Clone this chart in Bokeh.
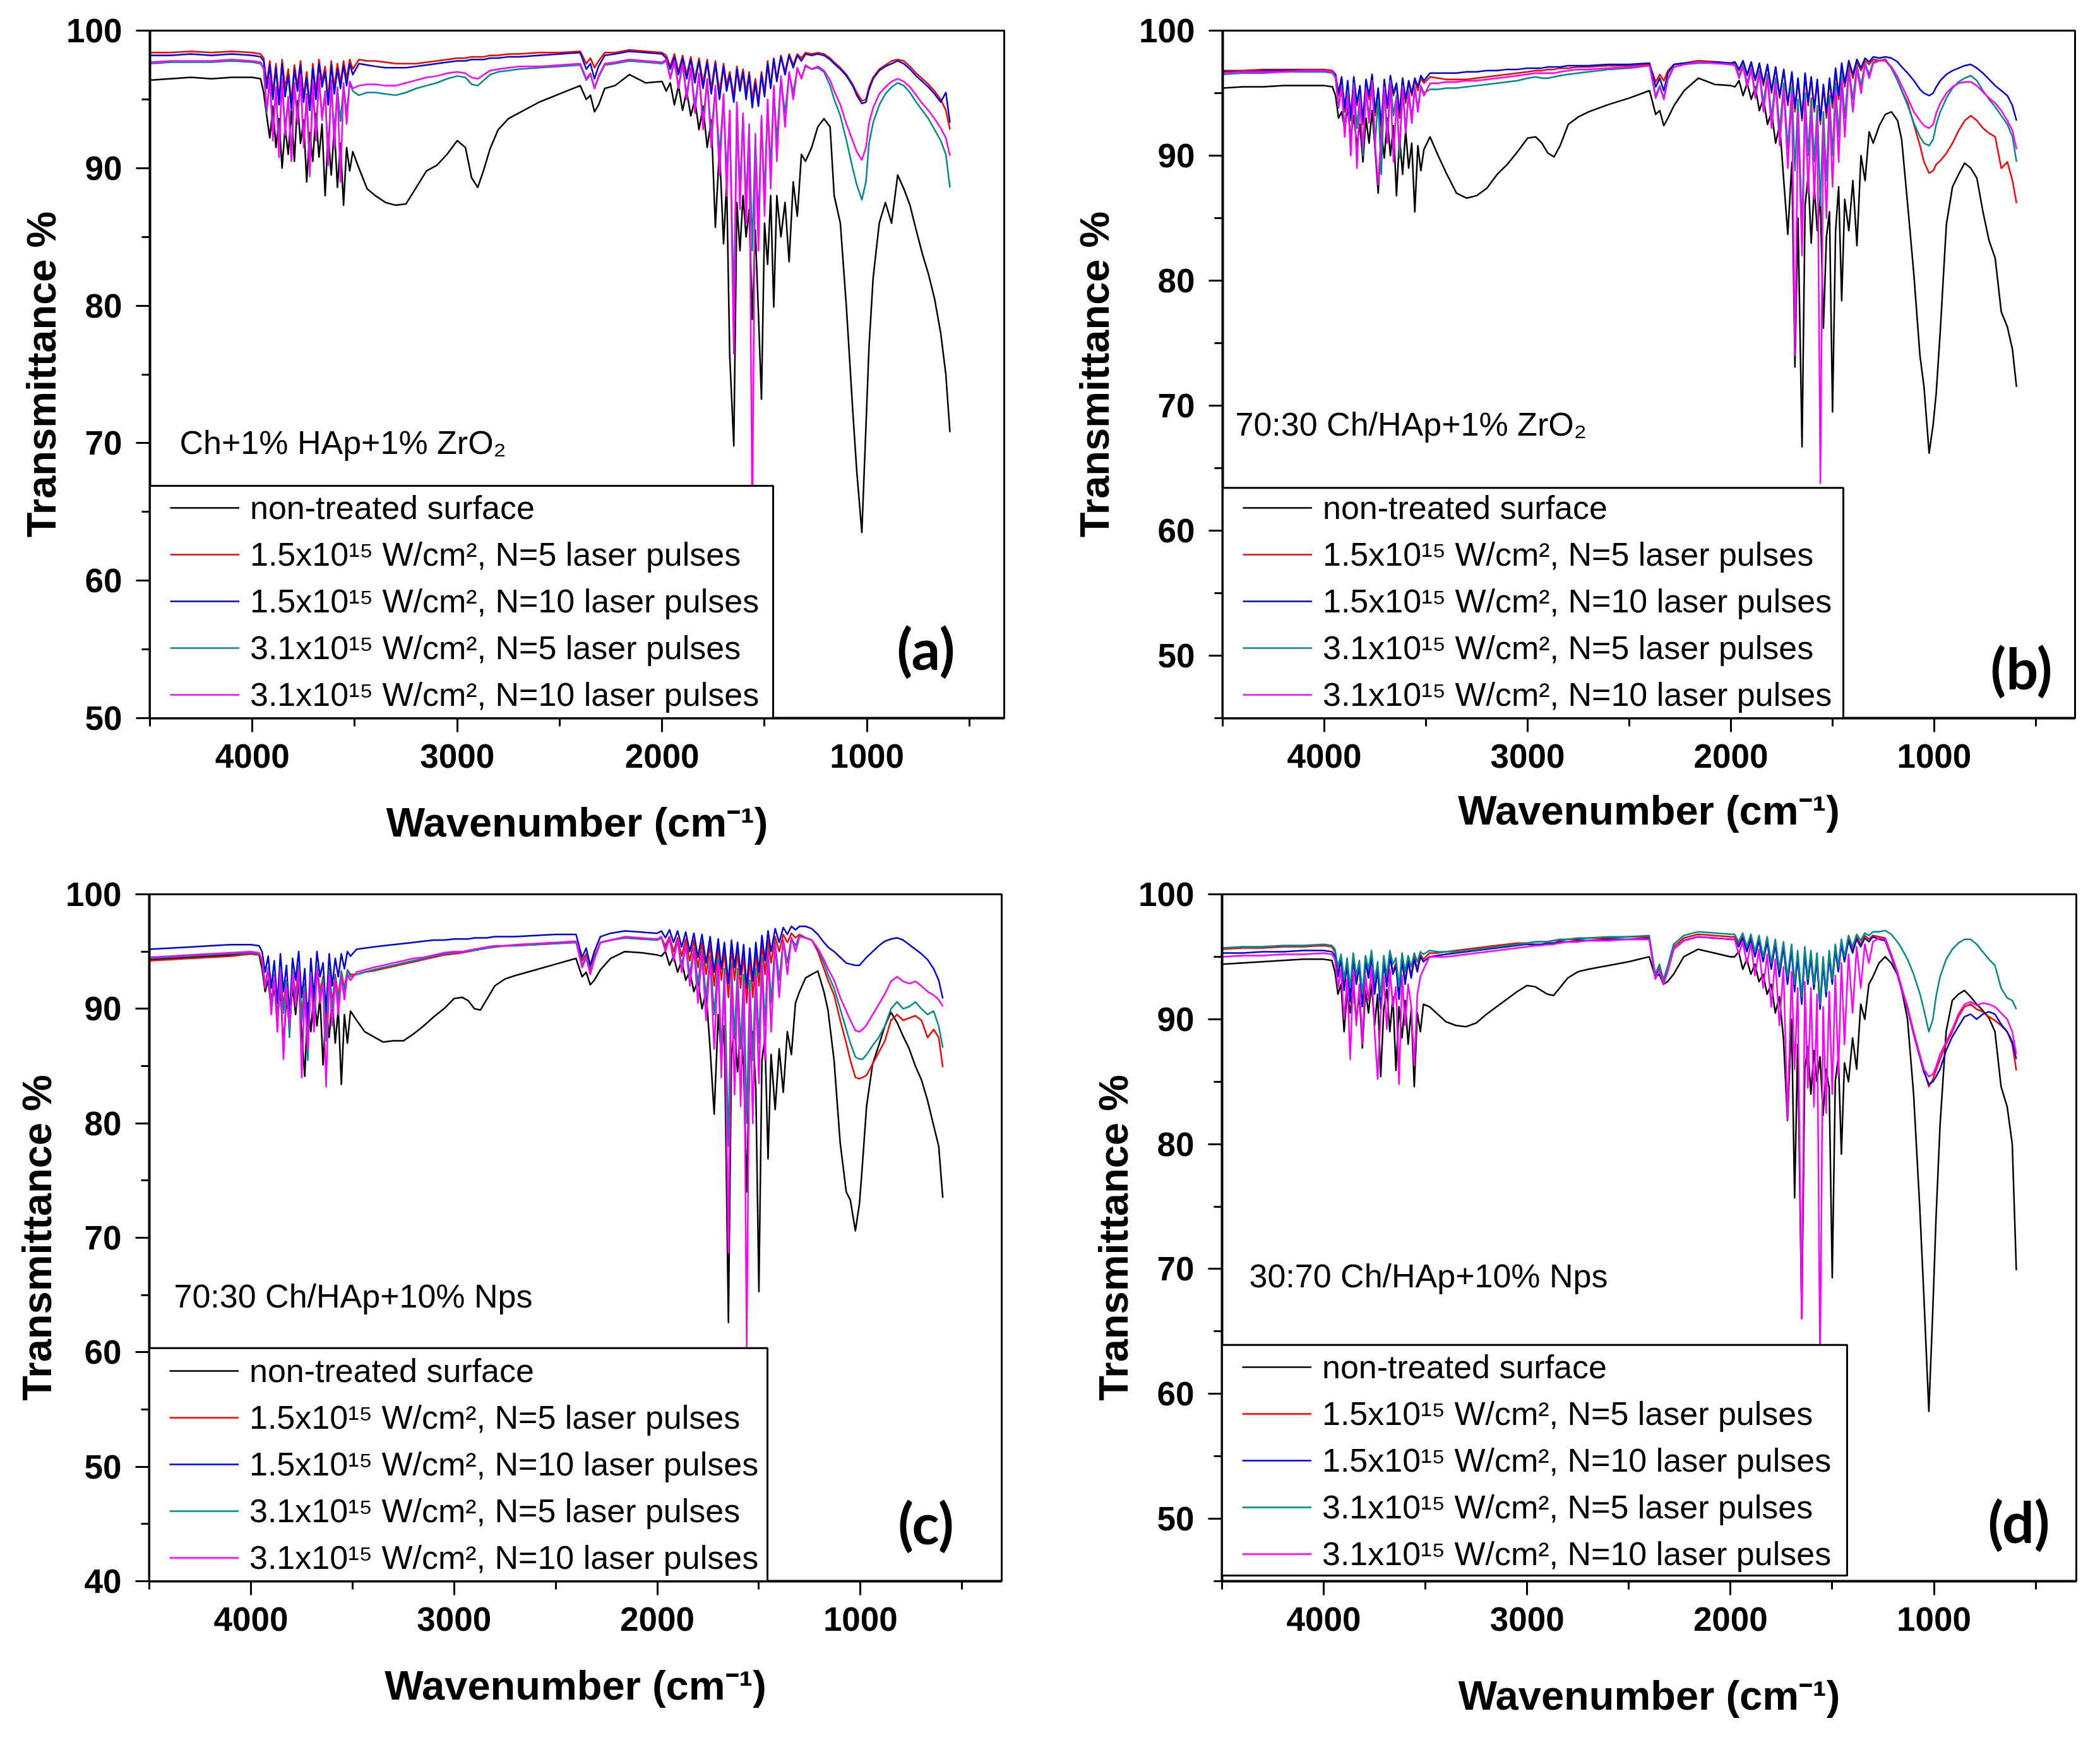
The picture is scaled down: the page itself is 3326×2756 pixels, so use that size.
from bokeh.plotting import figure
from bokeh.layouts import column, row
from bokeh.models import Range1d, FixedTicker, Legend, LegendItem, BoxAnnotation, Label
from bokeh.embed import file_html
from bokeh.resources import INLINE

# ---------------- wavenumber grid (cm-1), in five segments ----------------
wn_edge = [4500, 4400, 4300, 4200, 4100, 4000, 3960]
wn_oh = [3945, 3930, 3915, 3900, 3885, 3870, 3855, 3840, 3825, 3810, 3795, 3780, 3765, 3750, 3735,
         3720, 3705, 3690, 3675, 3660, 3645, 3630, 3615, 3600, 3585, 3570, 3555, 3540, 3525, 3510]
wn_ch = [3480, 3440, 3400, 3350, 3300, 3250, 3200, 3150, 3100, 3050, 3000, 2960, 2930, 2900, 2870,
         2840, 2800, 2750, 2700, 2600, 2500, 2400, 2370, 2350, 2330, 2310, 2280, 2230, 2160, 2080, 2000]
wn_amide = [1980, 1960, 1940, 1920, 1900, 1880, 1860, 1840, 1820, 1800, 1780, 1760, 1740, 1720, 1700,
            1685, 1670, 1650, 1635, 1620, 1605, 1590, 1575, 1560, 1545, 1530, 1515, 1500, 1485, 1470,
            1455, 1440, 1420, 1400, 1380, 1360, 1340, 1320, 1300]
wn_po4 = [1270, 1240, 1210, 1180, 1160, 1130, 1100, 1070, 1050, 1025, 1005, 990, 970, 940, 910, 880,
          850, 820, 790, 760, 730, 700, 670, 640, 615, 595]
WN_SEGMENTS = [wn_edge, wn_oh, wn_ch, wn_amide, wn_po4]

SERIES_LABELS = [
    "non-treated surface",
    "1.5x10\u00b9\u2075 W/cm\u00b2, N=5 laser pulses",
    "1.5x10\u00b9\u2075 W/cm\u00b2, N=10 laser pulses",
    "3.1x10\u00b9\u2075 W/cm\u00b2, N=5 laser pulses",
    "3.1x10\u00b9\u2075 W/cm\u00b2, N=10 laser pulses",
]
SERIES_COLORS = ["#000000", "#FF0000", "#0000E6", "#008B8B", "#FF00FF"]

# ---------------- panel (a): Ch+1% HAp+1% ZrO2 ----------------
a_untreated = [
    [96.4, 96.5, 96.6, 96.5, 96.6, 96.6, 96.5],
    [95.5, 93.8, 92.2, 94.5, 91.5, 93.6, 90.0, 93.0, 91.0, 94.2, 90.5, 94.9, 91.8, 93.5, 89.0,
     92.6, 90.5, 94.0, 90.8, 93.2, 88.0, 92.5, 89.5, 93.0, 88.6, 91.8, 87.3, 91.5, 89.8, 91.2],
    [90.0, 88.5, 88.0, 87.5, 87.3, 87.4, 88.6, 89.8, 90.2, 91.0, 92.0, 91.5, 89.3, 88.6, 89.9,
     91.4, 92.8, 93.6, 94.0, 94.8, 95.4, 96.0, 95.0, 95.3, 94.1, 94.6, 95.8, 96.0, 96.8, 96.2, 96.3],
    [95.6, 96.2, 94.6, 96.0, 94.2, 95.6, 93.8, 95.0, 92.8, 94.5, 91.5, 93.5, 85.7, 91.5, 84.5,
     89.0, 76.4, 69.8, 87.5, 84.0, 88.0, 85.0, 87.0, 79.0, 85.5, 79.5, 73.2, 86.0, 83.0, 88.0,
     79.9, 88.0, 85.0, 87.5, 83.2, 89.0, 86.5, 91.0, 90.5],
    [91.5, 93.0, 93.6, 93.0, 88.0, 86.0, 79.8, 72.5, 68.0, 63.5, 71.2, 77.0, 82.0, 86.0, 87.5,
     86.0, 89.5, 88.5, 87.3, 85.5, 83.8, 82.3, 80.5, 78.0, 75.0, 70.8],
]
a_15_n5 = [
    [98.4, 98.4, 98.5, 98.4, 98.5, 98.4, 98.3],
    [98.0, 96.2, 97.8, 95.5, 97.6, 95.0, 97.9, 95.8, 97.2, 94.8, 97.5, 96.0, 97.8, 95.2, 97.0,
     94.6, 97.6, 95.5, 97.9, 96.3, 97.4, 95.0, 97.8, 95.8, 97.6, 96.2, 97.8, 96.5, 97.9, 97.2],
    [97.9, 97.8, 97.8, 97.7, 97.6, 97.6, 97.6, 97.7, 97.8, 97.9, 98.0, 98.0, 98.1, 98.1, 98.1,
     98.2, 98.2, 98.3, 98.3, 98.4, 98.4, 98.5, 97.6, 98.0, 97.3, 97.8, 98.4, 98.4, 98.6, 98.5, 98.4],
    [98.2, 97.4, 98.3, 97.0, 98.2, 96.8, 98.1, 96.5, 98.0, 96.2, 97.9, 95.8, 97.8, 95.5, 97.6,
     96.0, 97.0, 95.2, 97.4, 96.0, 97.2, 95.5, 97.0, 95.0, 96.5, 94.8, 97.0, 95.5, 97.8, 96.0,
     98.0, 96.5, 98.2, 97.0, 98.3, 97.5, 98.3, 98.0, 98.4],
    [98.3, 98.4, 98.3, 98.0, 97.7, 97.3, 96.8, 96.1, 95.5, 94.9, 95.0, 95.9, 96.6, 97.2, 97.5,
     97.8, 97.9, 97.8, 97.4, 96.9, 96.5, 96.1, 95.6, 95.0, 94.2, 92.8],
]
a_15_n10 = [
    [98.2, 98.2, 98.3, 98.2, 98.3, 98.2, 98.1],
    [97.8, 95.8, 97.5, 95.0, 97.3, 94.6, 97.6, 95.2, 96.8, 94.3, 97.2, 95.6, 97.5, 94.8, 96.6,
     94.2, 97.3, 95.0, 97.6, 95.9, 97.0, 94.6, 97.5, 95.4, 97.2, 95.8, 97.5, 96.0, 97.6, 96.8],
    [97.6, 97.5, 97.4, 97.3, 97.3, 97.3, 97.4, 97.5, 97.6, 97.7, 97.8, 97.8, 97.9, 97.9, 97.9,
     98.0, 98.0, 98.1, 98.1, 98.2, 98.3, 98.4, 97.2, 97.6, 96.5, 97.4, 98.2, 98.3, 98.5, 98.4, 98.3],
    [98.0, 97.2, 98.1, 96.8, 98.0, 96.5, 97.9, 96.2, 97.8, 95.8, 97.7, 95.4, 97.6, 95.0, 97.4,
     95.6, 96.8, 94.8, 97.2, 95.6, 97.0, 95.0, 96.8, 94.4, 96.2, 94.5, 96.8, 95.2, 97.6, 95.8,
     97.9, 96.3, 98.1, 96.8, 98.2, 97.3, 98.2, 97.8, 98.3],
    [98.2, 98.3, 98.2, 97.9, 97.6, 97.2, 96.7, 96.0, 95.3, 94.7, 94.8, 95.7, 96.5, 97.1, 97.4,
     97.6, 97.8, 97.6, 97.2, 96.7, 96.3, 95.9, 95.4, 94.8, 95.5, 93.3],
]
a_31_n5 = [
    [97.6, 97.7, 97.7, 97.7, 97.8, 97.7, 97.6],
    [97.2, 94.0, 96.5, 92.5, 95.8, 91.5, 96.4, 92.8, 95.0, 91.0, 96.0, 93.5, 96.6, 92.0, 95.2,
     90.2, 96.0, 92.5, 96.5, 93.8, 95.4, 91.0, 96.2, 92.5, 95.8, 93.4, 96.0, 94.0, 96.2, 95.6],
    [95.3, 95.5, 95.5, 95.4, 95.3, 95.5, 95.8, 96.0, 96.2, 96.5, 96.7, 96.6, 96.1, 96.0, 96.4,
     96.8, 97.0, 97.1, 97.2, 97.3, 97.4, 97.5, 96.4, 96.8, 95.8, 96.6, 97.5, 97.6, 97.8, 97.7, 97.6],
    [97.8, 96.6, 97.7, 96.0, 97.5, 95.4, 97.2, 94.6, 96.8, 93.5, 96.4, 92.5, 95.8, 91.0, 95.2,
     89.5, 94.0, 80.0, 94.5, 88.5, 93.8, 87.5, 93.0, 84.0, 92.2, 86.0, 93.5, 88.0, 94.8, 90.0,
     95.8, 92.0, 96.5, 94.0, 96.9, 95.5, 97.2, 96.6, 97.4],
    [97.2, 97.3, 97.0, 96.0, 95.0, 93.8, 92.0, 90.0, 88.8, 87.7, 89.0, 91.8, 93.3, 94.6, 95.4,
     95.9, 96.2, 96.0, 95.5, 94.8, 94.2, 93.6, 92.8, 92.0, 91.0, 88.6],
]
a_31_n10 = [
    [97.7, 97.8, 97.8, 97.8, 97.9, 97.8, 97.7],
    [97.3, 94.2, 96.6, 92.0, 95.9, 90.8, 96.5, 92.4, 95.2, 90.5, 96.2, 93.2, 96.8, 91.5, 95.4,
     89.4, 96.2, 92.0, 96.7, 93.5, 95.6, 90.2, 96.4, 91.5, 95.9, 89.0, 96.2, 93.2, 96.3, 95.8],
    [96.0, 96.1, 96.1, 96.0, 96.0, 96.2, 96.4, 96.6, 96.7, 96.9, 97.0, 96.9, 96.6, 96.5, 96.8,
     97.1, 97.2, 97.3, 97.4, 97.4, 97.5, 97.6, 96.5, 96.9, 95.8, 96.7, 97.6, 97.7, 97.9, 97.8, 97.7],
    [97.9, 96.5, 97.8, 95.8, 97.6, 95.0, 97.3, 94.0, 96.9, 92.8, 96.5, 91.5, 96.0, 89.5, 95.4,
     88.0, 94.2, 76.5, 94.8, 87.0, 94.0, 86.0, 93.2, 64.0, 92.5, 84.0, 93.8, 86.5, 95.0, 88.5,
     96.0, 90.5, 96.7, 93.0, 97.0, 95.0, 97.3, 96.5, 97.5],
    [97.2, 97.4, 97.1, 96.4, 95.6, 94.6, 93.2, 92.0, 91.2, 90.6, 91.5, 93.3, 94.4, 95.4, 95.9,
     96.3, 96.5, 96.3, 95.9, 95.3, 94.7, 94.2, 93.6, 92.9, 92.2, 90.9],
]

# ---------------- panel (b): 70:30 Ch/HAp+1% ZrO2 ----------------
b_untreated = [
    [95.4, 95.5, 95.5, 95.6, 95.6, 95.6, 95.5],
    [94.8, 93.0, 93.5, 92.2, 93.8, 91.5, 93.2, 90.8, 92.5, 89.5, 93.0, 91.0, 93.6, 90.5, 87.0,
     92.0, 89.8, 93.0, 90.0, 92.4, 86.8, 91.5, 88.5, 92.0, 89.0, 91.0, 85.5, 90.8, 88.8, 90.5],
    [91.5, 90.0, 88.6, 87.0, 86.6, 86.8, 87.4, 88.5, 89.3, 90.3, 91.4, 91.5, 91.0, 90.2, 89.9,
     90.8, 92.5, 93.1, 93.5, 94.1, 94.6, 95.2, 93.3, 93.6, 92.4, 93.0, 94.0, 95.2, 96.2, 95.7, 95.6],
    [95.5, 96.0, 94.8, 95.8, 94.5, 95.5, 93.6, 94.6, 92.5, 93.5, 91.0, 92.5, 88.0, 83.7, 89.5,
     73.1, 85.0, 66.7, 86.0, 88.4, 83.0, 87.5, 84.0, 86.8, 76.2, 83.5, 85.5, 69.5, 84.0, 87.5,
     78.4, 86.5, 84.0, 88.0, 82.8, 90.0, 88.0, 91.9, 91.0],
    [92.4, 93.3, 93.5, 92.8, 91.3, 86.0, 80.5, 74.0, 71.5, 66.2, 68.5, 71.0, 76.0, 84.5, 87.5,
     88.5, 89.4, 89.0, 88.2, 85.5, 83.2, 81.8, 77.5, 76.3, 74.5, 71.5],
]
b_15_n5 = [
    [96.8, 96.8, 96.9, 96.9, 96.9, 96.9, 96.8],
    [96.5, 94.8, 96.2, 93.5, 95.8, 92.8, 96.2, 94.0, 95.5, 92.5, 96.0, 94.5, 96.4, 93.2, 95.2,
     92.0, 96.0, 93.8, 96.3, 94.8, 95.6, 93.0, 96.1, 94.2, 95.8, 94.8, 96.0, 95.2, 96.2, 95.8],
    [96.3, 96.2, 96.1, 96.1, 96.1, 96.2, 96.3, 96.4, 96.5, 96.6, 96.7, 96.8, 96.8, 96.9, 96.9,
     97.0, 97.0, 97.1, 97.1, 97.2, 97.2, 97.3, 95.9, 96.5, 96.0, 96.8, 97.3, 97.4, 97.6, 97.5, 97.4],
    [97.4, 96.8, 97.5, 96.4, 97.4, 96.0, 97.3, 95.6, 97.2, 95.0, 97.0, 94.6, 96.8, 94.0, 96.6,
     93.5, 96.0, 92.8, 96.5, 94.0, 96.2, 93.5, 96.0, 92.5, 95.5, 93.0, 96.0, 93.8, 96.8, 94.5,
     97.2, 95.5, 97.4, 96.2, 97.5, 96.8, 97.6, 97.3, 97.7],
    [97.6, 97.7, 97.0, 96.0, 95.2, 94.2, 92.5, 90.8, 89.5, 88.6, 88.8, 89.3, 89.6, 90.2, 91.0,
     92.0, 92.8, 93.2, 92.8, 92.2, 91.8, 91.5, 89.0, 89.5, 88.0, 86.2],
]
b_15_n10 = [
    [96.7, 96.7, 96.8, 96.8, 96.8, 96.8, 96.7],
    [96.5, 95.0, 96.3, 93.8, 96.0, 93.0, 96.3, 94.2, 95.6, 92.8, 96.1, 94.8, 96.5, 93.5, 95.4,
     92.4, 96.1, 94.0, 96.4, 95.0, 95.8, 93.4, 96.2, 94.5, 96.0, 95.0, 96.2, 95.5, 96.4, 96.0],
    [96.6, 96.6, 96.6, 96.6, 96.7, 96.7, 96.8, 96.8, 96.9, 96.9, 97.0, 97.0, 97.0, 97.1, 97.1,
     97.1, 97.2, 97.2, 97.2, 97.3, 97.3, 97.4, 95.5, 96.2, 95.2, 96.6, 97.3, 97.4, 97.5, 97.5, 97.4],
    [97.5, 96.9, 97.6, 96.5, 97.5, 96.1, 97.4, 95.8, 97.3, 95.2, 97.1, 94.8, 96.9, 94.2, 96.7,
     93.8, 96.2, 93.0, 96.6, 94.3, 96.3, 93.8, 96.1, 92.8, 95.7, 93.4, 96.2, 94.2, 97.0, 94.8,
     97.4, 95.8, 97.6, 96.5, 97.7, 97.0, 97.8, 97.5, 97.9],
    [97.8, 97.9, 97.8, 97.5, 97.1, 96.6, 96.0, 95.3, 95.0, 94.8, 95.0, 95.5, 96.0, 96.5, 96.8,
     97.0, 97.2, 97.3, 97.0, 96.6, 96.1, 95.6, 95.2, 94.8, 94.0, 92.8],
]
b_31_n5 = [
    [96.5, 96.6, 96.6, 96.7, 96.7, 96.7, 96.6],
    [96.2, 94.0, 95.6, 92.0, 95.2, 90.5, 95.8, 92.2, 94.8, 90.0, 95.4, 93.0, 96.0, 91.0, 94.5,
     88.5, 95.5, 91.5, 96.0, 93.2, 94.8, 89.8, 95.6, 92.0, 95.2, 93.0, 95.5, 93.8, 95.6, 95.0],
    [95.3, 95.3, 95.4, 95.4, 95.5, 95.6, 95.7, 95.8, 95.9, 96.0, 96.2, 96.3, 96.2, 96.2, 96.3,
     96.4, 96.5, 96.6, 96.7, 96.9, 97.0, 97.2, 94.8, 95.6, 94.6, 96.2, 97.1, 97.3, 97.4, 97.4, 97.3],
    [97.3, 96.4, 97.2, 95.8, 97.0, 95.0, 96.8, 94.2, 96.5, 93.0, 96.2, 92.0, 95.8, 90.5, 95.5,
     88.8, 94.5, 84.0, 95.0, 90.0, 94.6, 89.5, 94.0, 86.0, 93.5, 88.0, 94.8, 90.0, 95.8, 91.5,
     96.5, 93.0, 97.0, 94.5, 97.2, 95.6, 97.4, 96.5, 97.5],
    [97.6, 97.6, 97.0, 96.0, 95.2, 94.0, 92.6, 91.5, 91.0, 90.8, 91.3, 92.5, 93.5, 94.6, 95.4,
     95.9, 96.2, 96.4, 96.0, 95.2, 94.5, 93.9, 93.2, 92.5, 91.5, 89.5],
]
b_31_n10 = [
    [96.6, 96.7, 96.7, 96.7, 96.8, 96.8, 96.7],
    [96.3, 93.8, 95.5, 91.5, 95.0, 90.0, 95.6, 89.0, 94.6, 90.5, 95.3, 92.6, 95.9, 90.8, 87.7,
     91.5, 95.4, 91.0, 95.9, 89.5, 94.6, 90.5, 95.5, 91.8, 95.0, 92.6, 95.4, 93.5, 95.5, 94.8],
    [95.8, 95.8, 95.9, 95.9, 96.0, 96.0, 96.1, 96.2, 96.3, 96.4, 96.5, 96.6, 96.6, 96.6, 96.6,
     96.7, 96.8, 96.9, 96.9, 97.0, 97.1, 97.2, 94.6, 95.5, 94.5, 96.1, 97.1, 97.3, 97.5, 97.4, 97.3],
    [97.2, 96.2, 97.1, 95.5, 96.9, 94.6, 96.6, 93.5, 96.2, 92.2, 95.8, 90.8, 95.3, 89.0, 95.0,
     74.0, 93.5, 82.0, 94.5, 87.0, 93.8, 86.5, 93.2, 63.8, 92.5, 85.0, 94.0, 87.5, 95.2, 89.5,
     96.0, 91.5, 96.8, 93.5, 97.0, 95.0, 97.3, 96.2, 97.4],
    [97.6, 97.6, 97.1, 96.3, 95.6, 94.6, 93.5, 92.8, 92.4, 92.2, 92.5, 93.4, 94.2, 95.0, 95.5,
     95.8, 95.9, 95.9, 95.6, 95.1, 94.6, 94.2, 93.6, 92.8, 92.0, 90.5],
]

# ---------------- panel (c): 70:30 Ch/HAp+10% Nps ----------------
c_untreated = [
    [94.3, 94.4, 94.5, 94.6, 94.7, 94.8, 94.7],
    [93.5, 91.5, 92.5, 90.0, 92.0, 89.0, 91.8, 86.6, 91.0, 88.5, 92.0, 89.5, 92.3, 88.0, 84.1,
     90.5, 88.0, 91.5, 88.5, 91.0, 85.1, 90.2, 87.5, 90.8, 87.0, 90.0, 83.4, 89.5, 87.0, 89.8],
    [89.0, 88.0, 87.6, 87.1, 87.2, 87.2, 87.8, 88.5, 89.3, 90.0, 90.9, 91.0, 90.7, 90.0, 89.9,
     90.8, 92.0, 92.6, 92.9, 93.4, 93.9, 94.4, 92.8, 93.2, 92.1, 92.5, 93.4, 94.4, 95.0, 94.9, 94.7],
    [94.6, 95.0, 93.8, 94.6, 93.2, 94.2, 92.5, 93.3, 91.5, 92.5, 90.0, 91.5, 86.5, 80.8, 89.5,
     86.0, 88.5, 62.6, 86.0, 88.5, 84.5, 88.2, 85.0, 74.0, 86.0, 88.0, 83.0, 65.3, 85.5, 87.5,
     76.9, 86.0, 81.2, 86.5, 82.7, 88.0, 86.0, 90.5, 91.5],
    [92.7, 93.0, 93.3, 91.5, 89.9, 85.5, 78.3, 74.0, 73.3, 70.6, 73.0, 76.5, 81.5, 85.2, 86.8,
     88.5, 89.7, 88.8, 87.6, 86.5, 85.0, 83.8, 82.0, 79.8, 78.0, 73.5],
]
c_15_n5 = [
    [94.2, 94.3, 94.4, 94.5, 94.6, 94.8, 94.7],
    [94.0, 92.0, 93.5, 90.5, 93.0, 89.0, 93.6, 90.2, 92.5, 88.0, 93.2, 91.2, 93.8, 89.5, 92.2,
     86.5, 93.2, 89.5, 93.8, 91.5, 92.8, 88.0, 93.5, 90.5, 93.0, 91.0, 93.3, 91.8, 93.4, 93.0],
    [93.0, 93.2, 93.3, 93.5, 93.7, 93.9, 94.1, 94.3, 94.5, 94.7, 94.8, 94.9, 95.0, 95.1, 95.2,
     95.3, 95.4, 95.5, 95.5, 95.6, 95.7, 95.8, 94.2, 94.8, 93.5, 94.6, 95.8, 96.0, 96.2, 96.1, 96.0],
    [96.2, 95.5, 96.3, 95.0, 96.2, 94.6, 96.1, 94.2, 96.0, 93.6, 95.8, 93.0, 95.6, 92.0, 95.4,
     92.5, 95.0, 91.0, 95.3, 92.5, 95.0, 91.8, 94.8, 90.5, 94.5, 91.0, 95.0, 92.0, 95.6, 93.0,
     96.0, 94.0, 96.3, 95.0, 96.5, 95.8, 96.6, 96.2, 96.5],
    [96.2, 96.0, 95.0, 93.5, 92.5, 91.2, 89.0, 87.0, 85.5, 84.0, 83.9, 84.0, 84.2, 85.2, 86.2,
     87.2, 89.0, 89.5, 89.0, 89.2, 89.4, 89.0, 87.5, 88.2, 87.5, 84.9],
]
c_15_n10 = [
    [95.2, 95.3, 95.4, 95.5, 95.6, 95.6, 95.5],
    [95.0, 93.2, 94.6, 91.8, 94.2, 90.5, 94.8, 91.5, 93.8, 89.5, 94.4, 92.5, 95.0, 91.0, 93.5,
     88.5, 94.4, 91.0, 95.0, 92.8, 94.0, 89.8, 94.8, 92.0, 94.4, 92.8, 94.8, 93.5, 95.0, 94.6],
    [95.2, 95.3, 95.4, 95.5, 95.6, 95.7, 95.8, 95.9, 96.0, 96.0, 96.1, 96.1, 96.1, 96.2, 96.2,
     96.2, 96.3, 96.3, 96.3, 96.4, 96.5, 96.5, 94.5, 95.3, 93.8, 95.0, 96.3, 96.6, 96.8, 96.7, 96.6],
    [96.8, 96.2, 96.9, 95.8, 96.8, 95.4, 96.7, 95.0, 96.6, 94.5, 96.5, 94.0, 96.3, 93.2, 96.1,
     93.5, 95.8, 92.2, 96.0, 93.6, 95.8, 93.0, 95.6, 91.8, 95.3, 92.4, 95.8, 93.2, 96.4, 94.2,
     96.8, 95.0, 97.0, 95.8, 97.1, 96.5, 97.2, 96.9, 97.2],
    [97.2, 97.0, 96.5, 95.8, 95.4, 95.0, 94.5, 94.0, 93.9, 93.8, 93.8, 94.1, 94.5, 95.0, 95.5,
     95.9, 96.1, 96.2, 96.0, 95.6, 95.2, 94.8, 94.3, 93.5, 92.5, 90.9],
]
c_31_n5 = [
    [94.4, 94.5, 94.6, 94.7, 94.8, 94.9, 94.8],
    [94.2, 92.0, 93.6, 90.0, 93.0, 88.5, 93.6, 89.6, 92.4, 87.5, 93.2, 90.8, 93.8, 88.8, 92.0,
     85.5, 93.2, 88.8, 93.8, 91.0, 92.6, 87.2, 93.4, 90.0, 92.8, 90.5, 93.2, 91.5, 93.4, 92.8],
    [93.0, 93.2, 93.4, 93.6, 93.8, 94.0, 94.2, 94.4, 94.6, 94.8, 94.9, 95.0, 95.0, 95.1, 95.2,
     95.3, 95.4, 95.5, 95.5, 95.6, 95.7, 95.8, 93.8, 94.6, 93.2, 94.4, 95.8, 96.0, 96.2, 96.1, 96.0],
    [96.2, 95.2, 96.1, 94.5, 95.9, 93.8, 95.6, 93.0, 95.3, 92.2, 95.0, 91.0, 94.6, 89.5, 94.4,
     86.0, 93.5, 78.0, 94.0, 87.5, 93.5, 86.5, 93.0, 80.0, 92.5, 85.5, 93.5, 87.0, 94.5, 88.5,
     95.3, 90.5, 95.8, 92.5, 96.0, 94.0, 96.2, 95.5, 96.4],
    [96.2, 96.0, 95.2, 94.0, 93.0, 91.8, 90.0, 88.2, 87.0, 85.8, 85.6, 85.6, 86.0, 86.8, 87.5,
     88.5, 90.0, 90.6, 90.0, 90.2, 90.6, 90.0, 89.5, 89.8, 88.5, 86.6],
]
c_31_n10 = [
    [94.5, 94.6, 94.7, 94.8, 94.9, 95.0, 94.9],
    [94.3, 91.8, 93.5, 89.5, 92.8, 88.0, 93.4, 85.6, 92.0, 88.5, 93.0, 90.2, 93.6, 84.0, 91.5,
     86.5, 93.0, 88.0, 93.6, 90.5, 92.2, 83.2, 93.0, 88.5, 92.5, 89.5, 92.8, 90.8, 93.0, 92.5],
    [93.2, 93.4, 93.6, 93.8, 94.0, 94.2, 94.4, 94.5, 94.7, 94.9, 95.0, 95.0, 95.1, 95.2, 95.3,
     95.4, 95.5, 95.5, 95.6, 95.7, 95.8, 95.9, 93.6, 94.5, 93.0, 94.3, 95.8, 96.0, 96.3, 96.2, 96.1],
    [96.3, 95.0, 96.2, 94.2, 96.0, 93.2, 95.6, 92.0, 95.2, 90.5, 94.8, 89.0, 94.4, 86.5, 94.0,
     84.0, 93.0, 68.7, 93.5, 82.5, 92.8, 81.5, 92.2, 60.4, 91.5, 80.0, 92.8, 83.5, 94.0, 85.5,
     95.0, 88.0, 95.6, 91.0, 96.0, 93.0, 96.2, 95.0, 96.3],
    [96.2, 96.0, 95.3, 94.3, 93.5, 92.5, 91.0, 89.8, 89.0, 88.1, 88.0, 88.2, 88.6, 89.5, 90.4,
     91.3, 92.4, 92.8, 92.4, 92.2, 92.4, 92.0, 91.5, 91.2, 90.8, 90.2],
]

# ---------------- panel (d): 30:70 Ch/HAp+10% Nps ----------------
d_untreated = [
    [94.4, 94.5, 94.6, 94.7, 94.8, 94.8, 94.7],
    [93.8, 92.0, 92.8, 89.0, 92.2, 90.5, 92.5, 90.0, 92.0, 87.7, 92.3, 90.5, 92.8, 89.5, 92.0,
     85.4, 90.8, 92.4, 89.0, 91.8, 85.9, 91.0, 88.5, 91.5, 88.0, 90.8, 84.6, 90.5, 89.0, 91.2],
    [91.0, 90.4, 89.8, 89.5, 89.4, 89.7, 90.4, 91.0, 91.6, 92.2, 92.7, 92.6, 92.3, 92.0, 91.9,
     92.5, 93.3, 93.8, 94.0, 94.3, 94.6, 95.0, 93.4, 93.6, 92.8, 93.0, 93.6, 95.0, 95.6, 95.3, 95.0],
    [95.0, 95.4, 94.0, 94.8, 93.6, 94.4, 93.0, 93.6, 92.0, 92.8, 90.5, 91.8, 88.5, 81.9, 90.0,
     75.7, 88.0, 66.1, 86.0, 87.8, 84.0, 87.5, 85.0, 87.0, 82.3, 86.0, 84.5, 69.3, 85.0, 87.0,
     79.2, 86.5, 85.0, 88.5, 86.0, 91.2, 90.0, 92.8, 93.4],
    [94.5, 95.0, 94.5, 93.6, 92.5, 90.0, 84.0, 75.0, 68.0, 58.6, 67.0, 74.0, 81.5, 89.0, 91.5,
     92.0, 92.3, 91.8, 91.2, 90.7, 90.1, 89.0, 84.6, 83.0, 80.0, 69.9],
]
d_15_n5 = [
    [95.6, 95.7, 95.7, 95.8, 95.8, 95.9, 95.8],
    [95.4, 93.6, 95.0, 92.5, 94.6, 91.6, 95.0, 93.0, 94.4, 91.2, 94.8, 93.5, 95.2, 92.2, 94.2,
     91.0, 94.8, 92.8, 95.2, 93.8, 94.5, 91.8, 95.0, 93.0, 94.8, 93.5, 95.0, 94.0, 95.2, 94.8],
    [95.3, 95.3, 95.4, 95.5, 95.6, 95.7, 95.8, 95.9, 96.0, 96.1, 96.1, 96.2, 96.2, 96.2, 96.3,
     96.3, 96.4, 96.4, 96.5, 96.5, 96.6, 96.6, 93.5, 94.2, 93.0, 94.0, 95.8, 96.5, 96.8, 96.7, 96.6],
    [96.6, 96.0, 96.7, 95.6, 96.6, 95.2, 96.5, 94.8, 96.4, 94.2, 96.2, 93.6, 96.0, 93.0, 95.8,
     92.5, 95.2, 91.5, 95.5, 93.0, 95.2, 92.6, 95.0, 91.0, 94.6, 92.0, 95.2, 93.0, 95.8, 94.0,
     96.2, 94.8, 96.5, 95.5, 96.6, 96.0, 96.7, 96.4, 96.7],
    [96.6, 96.5, 95.2, 93.8, 92.6, 91.0, 89.0, 87.2, 86.0, 84.6, 85.2, 85.9, 86.8, 88.0, 89.0,
     90.2, 91.0, 91.2, 90.8, 90.6, 90.2, 89.9, 89.5, 89.0, 88.0, 85.9],
]
d_15_n10 = [
    [95.3, 95.3, 95.4, 95.4, 95.5, 95.5, 95.4],
    [95.1, 93.4, 94.8, 92.3, 94.4, 91.4, 94.8, 92.8, 94.2, 91.0, 94.6, 93.3, 95.0, 92.0, 94.0,
     90.8, 94.6, 92.6, 95.0, 93.6, 94.3, 91.6, 94.8, 92.8, 94.6, 93.3, 94.8, 93.8, 95.0, 94.6],
    [95.0, 95.1, 95.2, 95.3, 95.4, 95.5, 95.6, 95.7, 95.8, 95.9, 96.0, 96.0, 96.0, 96.1, 96.1,
     96.2, 96.2, 96.3, 96.3, 96.4, 96.4, 96.5, 93.4, 94.0, 92.8, 93.8, 95.6, 96.3, 96.6, 96.5, 96.4],
    [96.4, 95.8, 96.5, 95.4, 96.4, 95.0, 96.3, 94.6, 96.2, 94.0, 96.0, 93.4, 95.8, 92.8, 95.6,
     92.2, 95.0, 91.2, 95.3, 92.8, 95.0, 92.4, 94.8, 90.8, 94.4, 91.8, 95.0, 92.8, 95.6, 93.8,
     96.0, 94.6, 96.3, 95.3, 96.4, 95.8, 96.5, 96.2, 96.6],
    [96.4, 96.3, 95.0, 93.6, 92.4, 90.8, 88.8, 87.0, 85.8, 84.8, 85.0, 85.4, 86.0, 87.5, 88.6,
     89.4, 90.2, 90.4, 90.0, 90.4, 90.6, 90.4, 89.6, 89.0, 88.2, 86.8],
]
d_31_n5 = [
    [95.7, 95.8, 95.8, 95.9, 95.9, 96.0, 95.9],
    [95.6, 94.2, 95.2, 93.2, 94.9, 92.5, 95.3, 93.5, 94.7, 92.0, 95.1, 94.0, 95.5, 93.0, 94.6,
     91.8, 95.1, 93.5, 95.5, 94.4, 94.9, 92.6, 95.3, 93.8, 95.1, 94.2, 95.3, 94.6, 95.4, 95.2],
    [95.5, 95.4, 95.4, 95.4, 95.5, 95.6, 95.7, 95.8, 95.9, 96.0, 96.1, 96.2, 96.2, 96.2, 96.3,
     96.4, 96.4, 96.5, 96.5, 96.6, 96.6, 96.7, 93.6, 94.4, 93.2, 94.2, 96.0, 96.7, 97.0, 96.9, 96.8],
    [96.8, 96.2, 96.9, 95.8, 96.8, 95.4, 96.7, 95.0, 96.6, 94.5, 96.4, 94.0, 96.2, 93.4, 96.0,
     92.8, 95.5, 91.8, 95.8, 93.2, 95.5, 92.8, 95.3, 91.2, 95.0, 92.2, 95.5, 93.2, 96.0, 94.2,
     96.4, 95.0, 96.7, 95.8, 96.8, 96.3, 96.9, 96.7, 97.0],
    [97.0, 97.1, 96.8, 96.2, 95.7, 94.8, 93.6, 92.1, 90.8, 89.0, 90.0, 91.8, 93.4, 94.8, 95.6,
     96.1, 96.4, 96.4, 96.0, 95.4, 94.8, 94.3, 92.5, 91.7, 91.5, 90.8],
]
d_31_n10 = [
    [95.0, 95.1, 95.1, 95.2, 95.2, 95.3, 95.2],
    [94.8, 92.5, 94.0, 90.0, 93.2, 86.8, 93.8, 89.5, 92.8, 88.0, 93.5, 91.5, 94.2, 89.0, 85.2,
     90.5, 93.4, 89.2, 94.0, 91.0, 92.6, 84.8, 93.5, 89.5, 92.8, 91.0, 86.3, 92.0, 93.4, 94.0],
    [95.0, 95.0, 95.0, 95.1, 95.2, 95.3, 95.4, 95.5, 95.6, 95.7, 95.8, 95.9, 95.9, 96.0, 96.0,
     96.1, 96.2, 96.2, 96.3, 96.3, 96.4, 96.4, 93.2, 94.0, 92.8, 93.8, 95.6, 96.3, 96.6, 96.5, 96.4],
    [96.4, 95.2, 96.2, 94.5, 96.0, 93.5, 95.6, 92.5, 95.2, 91.0, 94.8, 89.5, 94.2, 82.0, 93.8,
     86.0, 92.5, 66.0, 93.0, 84.5, 92.5, 83.0, 92.0, 62.0, 91.0, 82.5, 92.2, 84.0, 93.5, 85.5,
     94.5, 88.0, 95.2, 90.5, 95.8, 92.5, 96.0, 94.5, 96.2],
    [96.5, 96.4, 95.1, 93.7, 92.5, 90.9, 88.9, 87.1, 86.0, 85.4, 85.6, 86.2, 87.2, 88.2, 89.2,
     90.4, 91.2, 91.4, 91.1, 91.3, 91.2, 91.0, 90.5, 90.0, 89.0, 87.2],
]

# ---------------- layout (page pixel coordinates) ----------------
FIG_W, FIG_H = 1655, 1370


def assemble(series):
    xs, ys = [], []
    for xseg, yseg in zip(WN_SEGMENTS, series):
        n = min(len(xseg), len(yseg))
        xs += list(xseg[:n])
        ys += list(yseg[:n])
    return xs, ys


def build(cfg):
    ox, oy = cfg["origin"]
    L, T, R, B = cfg["frame"]
    xend, y0 = cfg["xend"], cfg["y0"]
    fw, fh = R - L, B - T

    def dx(px):
        return 4500 - (px - L) / fw * (4500 - xend)

    def dy(py):
        return 100 - (py - T) / fh * (100 - y0)

    p = figure(width=FIG_W, height=FIG_H,
               x_range=Range1d(4500, xend), y_range=Range1d(y0, 100),
               min_border_left=L - ox, min_border_right=ox + FIG_W - R,
               min_border_top=T - oy, min_border_bottom=oy + FIG_H - B,
               output_backend="svg", toolbar_location=None,
               background_fill_color="white", border_fill_color="white")
    p.xgrid.grid_line_color = None
    p.ygrid.grid_line_color = None
    p.outline_line_color = "black"
    p.outline_line_width = 3
    p.outline_line_alpha = 1.0

    xa, ya = p.xaxis[0], p.yaxis[0]
    xa.ticker = FixedTicker(ticks=[1000, 2000, 3000, 4000], minor_ticks=[500, 1500, 2500, 3500, 4500])
    ya.ticker = FixedTicker(ticks=cfg["ymaj"], minor_ticks=cfg["ymin"])
    xa.axis_label = "Wavenumber (cm\u207b\u00b9)"
    ya.axis_label = "Transmittance %"
    for ax in (xa, ya):
        ax.axis_line_width = 4
        ax.axis_line_color = "black"
        ax.major_tick_line_width = 3
        ax.minor_tick_line_width = 3
        ax.major_tick_line_color = "black"
        ax.minor_tick_line_color = "black"
        ax.major_tick_out = 22
        ax.major_tick_in = 0
        ax.minor_tick_out = 13
        ax.minor_tick_in = 0
        ax.major_label_text_font = "Liberation Sans"
        ax.major_label_text_font_style = "bold"
        ax.major_label_text_font_size = "53px"
        ax.major_label_text_color = "black"
        ax.axis_label_text_font = "Liberation Sans"
        ax.axis_label_text_font_style = "bold"
        ax.axis_label_text_font_size = "65px"
        ax.axis_label_text_color = "black"
    xa.major_label_standoff = 19
    ya.major_label_standoff = 22
    xa.axis_label_standoff = cfg["xlab_sd"]
    ya.axis_label_standoff = cfg["ylab_sd"]

    renderers = []
    for s, c in zip(cfg["series"], SERIES_COLORS):
        xs, ys = assemble(s)
        renderers.append(p.line(xs, ys, line_color=c, line_width=2.5, line_join="round"))

    box_r, box_t, box_b = cfg["legend_box"]
    p.add_layout(BoxAnnotation(left=4500, right=dx(box_r), bottom=dy(min(box_b, B)), top=dy(box_t),
                               fill_color="white", fill_alpha=1.0,
                               line_color="black", line_width=3, line_alpha=1.0))
    items = [LegendItem(label=lab, renderers=[r]) for lab, r in zip(SERIES_LABELS, renderers)]
    leg = Legend(items=items, location=(32, cfg["leg_dy"]), orientation="vertical",
                 padding=0, spacing=0, margin=0,
                 glyph_width=110, glyph_height=74, label_height=74, label_standoff=17,
                 label_text_font="Liberation Sans", label_text_font_size="52px",
                 label_text_color="black",
                 background_fill_alpha=0.0, border_line_alpha=0.0)
    p.add_layout(leg)

    tx, ty = cfg["tag_xy"]
    p.add_layout(Label(x=dx(tx), y=dy(ty), text=cfg["tag"], text_font="Liberation Sans",
                       text_font_size="52px", text_baseline="middle", text_align="left",
                       text_color="black"))
    lx, ly = cfg["letter_xy"]
    p.add_layout(Label(x=dx(lx), y=dy(ly), text=cfg["letter"], text_font="Lato",
                       text_font_style="bold", text_font_size="90px", text_baseline="middle",
                       text_align="center", text_color="black"))
    return p


PANELS = [
    dict(origin=(8, 8), frame=(245, 56, 1598, 1145), xend=330, y0=50,
         ymaj=[50, 60, 70, 80, 90, 100], ymin=[55, 65, 75, 85, 95],
         series=[a_untreated, a_15_n5, a_15_n10, a_31_n5, a_31_n10],
         tag="Ch+1% HAp+1% ZrO\u2082", tag_xy=(292, 708), letter="(a)", letter_xy=(1474, 1033),
         legend_box=(1232, 777, 1145), leg_dy=0, ylab_sd=0, xlab_sd=47),
    dict(origin=(1663, 8), frame=(1944, 56, 3294, 1146), xend=307, y0=45,
         ymaj=[50, 60, 70, 80, 90, 100], ymin=[45, 55, 65, 75, 85, 95],
         series=[b_untreated, b_15_n5, b_15_n10, b_31_n5, b_31_n10],
         tag="70:30 Ch/HAp+1% ZrO\u2082", tag_xy=(1964, 680), letter="(b)", letter_xy=(3209, 1065),
         legend_box=(2927, 781, 1148), leg_dy=0, ylab_sd=31, xlab_sd=28),
    dict(origin=(8, 1378), frame=(244, 1422, 1594, 2512), xend=305, y0=40,
         ymaj=[40, 50, 60, 70, 80, 90, 100], ymin=[45, 55, 65, 75, 85, 95],
         series=[c_untreated, c_15_n5, c_15_n10, c_31_n5, c_31_n10],
         tag="70:30 Ch/HAp+10% Nps", tag_xy=(283, 2060), letter="(c)", letter_xy=(1474, 2418),
         legend_box=(1223, 2142, 2512), leg_dy=0, ylab_sd=6, xlab_sd=47),
    dict(origin=(1663, 1378), frame=(1943, 1424, 3296, 2514), xend=300, y0=45,
         ymaj=[50, 60, 70, 80, 90, 100], ymin=[45, 55, 65, 75, 85, 95],
         series=[d_untreated, d_15_n5, d_15_n10, d_31_n5, d_31_n10],
         tag="30:70 Ch/HAp+10% Nps", tag_xy=(1986, 2030), letter="(d)", letter_xy=(3205, 2418),
         legend_box=(2933, 2139, 2505), leg_dy=6, ylab_sd=0, xlab_sd=63),
]

figs = [build(cfg) for cfg in PANELS]
layout = column(row(figs[0], figs[1]), row(figs[2], figs[3]))

with open("out.html", "w") as f:
    f.write(file_html(layout, INLINE, title="FTIR spectra"))
